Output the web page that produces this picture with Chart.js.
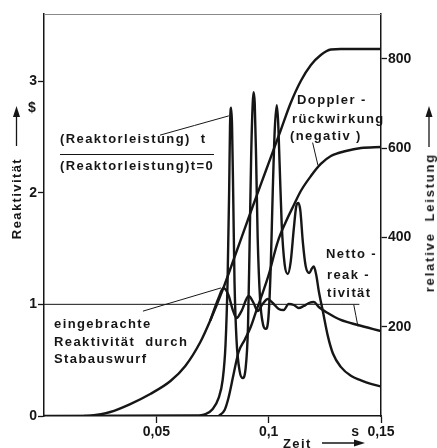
<!DOCTYPE html>
<html>
<head>
<meta charset="utf-8">
<script src="https://cdn.jsdelivr.net/npm/chart.js@4.4.1/dist/chart.umd.min.js"></script>
<style>
  html, body { margin: 0; padding: 0; background: #fff; overflow: hidden; }
  #wrap { position: relative; width: 437px; height: 448px; }
  canvas { display: block; }
  .vt {
    position: absolute;
    writing-mode: vertical-rl;
    transform: rotate(180deg);
    font: bold 13px "Liberation Sans", Arial, sans-serif;
    letter-spacing: 1.4px;
    line-height: 14px;
    color: #161616;
    white-space: pre;
  }
  .unit {
    position: absolute;
    font: bold 14px "Liberation Sans", Arial, sans-serif;
    line-height: 16px;
    color: #161616;
  }
</style>
</head>
<body>
<div id="wrap">
  <canvas id="chart" width="437" height="448"></canvas>
  <div class="vt" style="left:10px; top:158px;">Reaktivität</div>
  <div class="vt" style="left:423px; top:153px; letter-spacing:1.8px;">relative  Leistung</div>
  <div class="unit" style="left:28px; top:99px;">$</div>
</div>
<script>
// time axis in s, left axis reactivity in $, right axis relative power
const timeTicks = [0.05, 0.1, 0.15];
const reactivityTicks = [0, 1, 2, 3];
const powerTicks = [200, 400, 600, 800];

// eingebrachte Reaktivitaet durch Stabauswurf
const insertedTime = [0.018, 0.0205, 0.0295, 0.0384, 0.0473, 0.0563, 0.0629, 0.0696, 0.0741, 0.0795, 0.0853, 0.092, 0.0987, 0.1054, 0.1098, 0.1143, 0.1188, 0.1232, 0.1277, 0.1321, 0.15];
const insertedValue = [0, 0.002, 0.036, 0.107, 0.197, 0.313, 0.448, 0.663, 0.86, 1.128, 1.451, 1.827, 2.194, 2.561, 2.803, 3.0, 3.143, 3.233, 3.282, 3.286, 3.286];

// Dopplerrueckwirkung (negativ)
const dopplerTime = [0.0777, 0.0804, 0.0821, 0.0844, 0.0866, 0.0893, 0.092, 0.0946, 0.0973, 0.1, 0.104, 0.1076, 0.1112, 0.1143, 0.1188, 0.1232, 0.1277, 0.1344, 0.1411, 0.15];
const dopplerValue = [0, 0.054, 0.161, 0.376, 0.573, 0.681, 0.797, 0.949, 1.101, 1.263, 1.558, 1.737, 1.889, 2.015, 2.149, 2.257, 2.328, 2.373, 2.4, 2.409];

// Nettoreaktivitaet
const netTime = [0.0741, 0.0777, 0.0799, 0.0821, 0.0839, 0.0857, 0.0879, 0.0911, 0.0933, 0.0951, 0.0973, 0.0996, 0.1018, 0.1045, 0.1067, 0.1089, 0.1112, 0.1134, 0.1156, 0.1179, 0.1201, 0.1223, 0.1263, 0.1321, 0.1397, 0.15];
const netValue = [0.86, 1.057, 1.146, 1.084, 0.958, 0.878, 0.94, 1.075, 1.012, 0.94, 1.003, 1.048, 1.012, 0.958, 0.949, 1.003, 0.994, 0.967, 0.985, 1.012, 1.021, 0.976, 0.922, 0.86, 0.815, 0.761];

// (Reaktorleistung)t / (Reaktorleistung)t=0
const powerTime = [0, 0.0674, 0.0719, 0.075, 0.0777, 0.0795, 0.0808, 0.0817, 0.0824, 0.0828, 0.0833, 0.0837, 0.0842, 0.0848, 0.0857, 0.0871, 0.0884, 0.0897, 0.0908, 0.0915, 0.0922, 0.0929, 0.0933, 0.0938, 0.0944, 0.0951, 0.0962, 0.0975, 0.0987, 0.0998, 0.1009, 0.1018, 0.1027, 0.1036, 0.1042, 0.1049, 0.1058, 0.1071, 0.1085, 0.1098, 0.1112, 0.1123, 0.1132, 0.1141, 0.1152, 0.1165, 0.1181, 0.1192, 0.1201, 0.1212, 0.1223, 0.1241, 0.1263, 0.1286, 0.1321, 0.1366, 0.1411, 0.1455, 0.15];
const powerValue = [0, 1, 4, 15, 40, 80, 160, 300, 500, 650, 690, 650, 500, 300, 170, 100, 85, 105, 200, 380, 580, 700, 725, 700, 580, 400, 260, 205, 195, 215, 330, 500, 640, 696, 660, 560, 430, 340, 318, 345, 420, 470, 477, 460, 390, 335, 320, 330, 335, 315, 280, 235, 180, 140, 110, 90, 80, 72, 66];

// 1 $ reference line
const promptTime = [0, 0.1402];
const promptValue = [1, 1];

// thin pointer lines from the labels to the curves (time, reactivity)
const pointerTime = [[0.0518, 0.0821], [0.0442, 0.0786], [0.1196, 0.1219], [0.1379, 0.1397]];
const pointerValue = [[2.516, 2.687], [0.94, 1.146], [2.445, 2.248], [0.994, 0.806]];

const ink = '#161616';
const labelFont = 'bold 13px "Liberation Sans", Arial, sans-serif';
const tickFont = { family: '"Liberation Sans", Arial, sans-serif', size: 14, weight: 'bold' };

const notes = [
  { text: '(Reaktorleistung)  t', x: 60, y: 143 },
  { text: '(Reaktorleistung)t=0', x: 60, y: 170 },
  { text: 'eingebrachte', x: 54, y: 328 },
  { text: 'Reaktivität  durch', x: 54, y: 346 },
  { text: 'Stabauswurf', x: 54, y: 363 },
  { text: 'Doppler -', x: 297, y: 104 },
  { text: 'rückwirkung', x: 292, y: 123 },
  { text: '(negativ )', x: 290, y: 140 },
  { text: 'Netto -', x: 326, y: 258 },
  { text: 'reak -', x: 327, y: 279 },
  { text: 'tivität', x: 327, y: 297 }
];

function toPoints(xs, ys) {
  return xs.map((x, i) => ({ x: x, y: ys[i] }));
}

function curve(xs, ys, axis, width) {
  return {
    data: toPoints(xs, ys),
    yAxisID: axis,
    borderColor: ink,
    borderWidth: width,
    pointRadius: 0,
    fill: false,
    cubicInterpolationMode: 'monotone',
    borderJoinStyle: 'round',
    borderCapStyle: 'round'
  };
}

function arrow(ctx, x1, y1, x2, y2) {
  const ang = Math.atan2(y2 - y1, x2 - x1);
  ctx.beginPath();
  ctx.moveTo(x1, y1);
  ctx.lineTo(x2 - 9 * Math.cos(ang), y2 - 9 * Math.sin(ang));
  ctx.stroke();
  ctx.beginPath();
  ctx.moveTo(x2, y2);
  ctx.lineTo(x2 - 11 * Math.cos(ang) + 3.5 * Math.sin(ang), y2 - 11 * Math.sin(ang) - 3.5 * Math.cos(ang));
  ctx.lineTo(x2 - 11 * Math.cos(ang) - 3.5 * Math.sin(ang), y2 - 11 * Math.sin(ang) + 3.5 * Math.cos(ang));
  ctx.closePath();
  ctx.fill();
}

function spaced(ctx, text, x, y, gap) {
  // letter spaced text, drawn glyph by glyph
  let cx = x;
  for (const ch of text) {
    ctx.fillText(ch, cx, y);
    cx += ctx.measureText(ch).width + gap;
  }
}

const decor = {
  id: 'decor',
  afterDraw(chart) {
    const ctx = chart.ctx;
    const a = chart.chartArea;
    ctx.save();
    // top frame
    ctx.strokeStyle = '#8a8a8a';
    ctx.lineWidth = 1;
    ctx.beginPath();
    ctx.moveTo(a.left, a.top + 0.5);
    ctx.lineTo(a.right, a.top + 0.5);
    ctx.stroke();

    ctx.fillStyle = ink;
    ctx.strokeStyle = ink;
    ctx.font = labelFont;
    ctx.textAlign = 'left';
    ctx.textBaseline = 'alphabetic';
    notes.forEach(n => spaced(ctx, n.text, n.x, n.y, 1.4));

    // fraction bar
    ctx.lineWidth = 1.2;
    ctx.beginPath();
    ctx.moveTo(60, 154.5);
    ctx.lineTo(214, 154.5);
    ctx.stroke();

    ctx.font = 'bold 14px "Liberation Sans", Arial, sans-serif';
    ctx.textAlign = 'right';
    ctx.fillText('s', 359, 436);
    ctx.textAlign = 'left';
    ctx.font = labelFont;
    spaced(ctx, 'Zeit', 283, 448, 1.4);

    // arrows of the axis titles
    ctx.lineWidth = 1.3;
    arrow(ctx, 16.5, 146, 16.5, 106);
    arrow(ctx, 429, 147, 429, 106);
    arrow(ctx, 322, 443, 365, 443);
    ctx.restore();
  }
};

const datasets = [
  curve(insertedTime, insertedValue, 'y', 2.4),
  curve(dopplerTime, dopplerValue, 'y', 2.4),
  curve(netTime, netValue, 'y', 2.4),
  curve(powerTime, powerValue, 'y1', 2.4),
  curve(promptTime, promptValue, 'y', 1)
];
pointerTime.forEach((t, i) => datasets.push(curve(t, pointerValue[i], 'y', 1)));

new Chart(document.getElementById('chart'), {
  type: 'line',
  data: { datasets: datasets },
  plugins: [decor],
  options: {
    responsive: false,
    animation: false,
    events: [],
    layout: { padding: { top: 14, left: 0, right: 0, bottom: 0 } },
    plugins: { legend: { display: false }, tooltip: { enabled: false } },
    scales: {
      x: {
        type: 'linear',
        min: 0,
        max: 0.15,
        afterBuildTicks: s => { s.ticks = timeTicks.map(v => ({ value: v })); },
        afterFit: s => { s.height = 32; },
        border: { display: true, color: ink, width: 1.5 },
        grid: { display: true, drawOnChartArea: false, drawTicks: true, tickLength: 7, tickColor: ink, tickWidth: 1.3 },
        ticks: {
          color: ink,
          font: tickFont,
          padding: 1,
          minRotation: 0,
          maxRotation: 0,
          autoSkip: false,
          callback: v => String(v).replace('.', ',')
        }
      },
      y: {
        type: 'linear',
        position: 'left',
        min: 0,
        max: 3.6,
        afterBuildTicks: s => { s.ticks = reactivityTicks.map(v => ({ value: v })); },
        afterFit: s => { s.width = 44; },
        border: { display: true, color: ink, width: 1.5 },
        grid: { display: true, drawOnChartArea: false, drawTicks: true, tickLength: 6, tickColor: ink, tickWidth: 1.3 },
        ticks: { color: ink, font: tickFont, padding: 1, callback: v => String(v) }
      },
      y1: {
        type: 'linear',
        position: 'right',
        min: 0,
        max: 900,
        afterBuildTicks: s => { s.ticks = powerTicks.map(v => ({ value: v })); },
        afterFit: s => { s.width = 56; },
        border: { display: true, color: ink, width: 1.5 },
        grid: { display: true, drawOnChartArea: false, drawTicks: true, tickLength: 6, tickColor: ink, tickWidth: 1.3 },
        ticks: { color: ink, font: tickFont, padding: 1, callback: v => String(v) }
      }
    }
  }
});
</script>
</body>
</html>
